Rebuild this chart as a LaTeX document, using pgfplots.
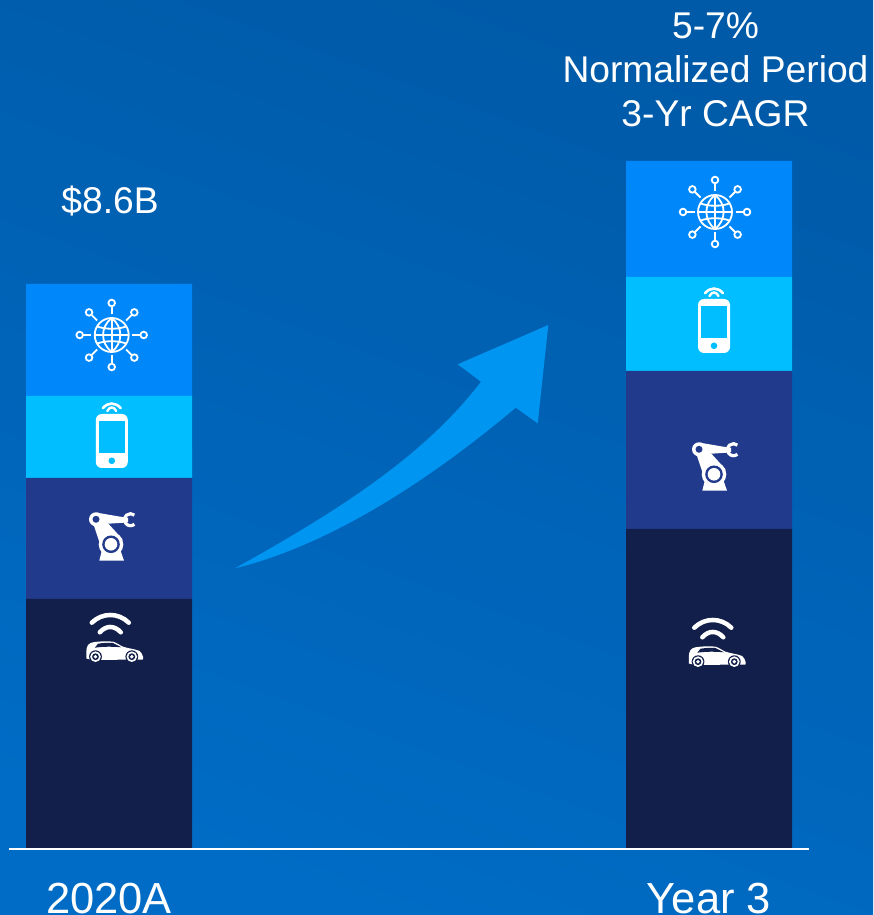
\documentclass[border=0pt]{standalone}
\usepackage{fontspec}
\setmainfont{Liberation Sans}
\usepackage{pgfplots}
\pgfplotsset{compat=1.18}
\definecolor{bgtop}{HTML}{005AA8}
\definecolor{bgmid}{HTML}{0065B9}
\definecolor{bgbot}{HTML}{006CC5}
\definecolor{navy}{HTML}{121F4A}
\definecolor{royal}{HTML}{223A8C}
\definecolor{cyanbar}{HTML}{00BEFF}
\definecolor{bluebar}{HTML}{0088FA}
\definecolor{arrowblue}{HTML}{0095F0}

% icons, drawn in reference pixels round their centre
\newcommand{\globeicon}[2]{%
\begin{scope}[shift={(#1,#2)},white,line width=1.8pt]
  \draw (0,0) circle (17);
  \draw (-17,0) -- (17,0) (0,-17) -- (0,17);
  \draw (0,-17) .. controls (-11.5,-8) and (-11.5,8) .. (0,17);
  \draw (0,-17) .. controls (11.5,-8) and (11.5,8) .. (0,17);
  \draw (-14.5,-8.5) .. controls (-6,-5.5) and (6,-5.5) .. (14.5,-8.5);
  \draw (-14.5,8.5) .. controls (-6,5.5) and (6,5.5) .. (14.5,8.5);
  \foreach \a in {0,45,...,315} {
    \draw[rotate=\a] (20.5,0) -- (28.3,0);
    \draw[rotate=\a] (32,0) circle (3.3);
  }
\end{scope}}
\newcommand{\phoneicon}[3]{%
\begin{scope}[shift={(#1,#2)}]
  \fill[white,rounded corners=6pt] (-16,-27) rectangle (16,27);
  \fill[#3] (-13.3,-20.3) rectangle (13.3,12.3);
  \fill[#3] (0,19.8) circle (3.3);
  \draw[white,line width=2.6pt,line cap=round] (-9,-32.7) .. controls (-4,-39) and (4,-39) .. (9,-32.7);
  \draw[white,line width=2.4pt,line cap=round] (-4.5,-30) .. controls (-2,-34.7) and (2,-34.7) .. (4.5,-30);
\end{scope}}
\newcommand{\roboticon}[3]{%
\begin{scope}[shift={(#1,#2)}]
  \fill[white] (-9,5.7) -- (-11.7,16.4) -- (13,16.4) -- (9.3,5.7) -- cycle;
  \fill[white] (-17.3,-19.3) -- (-11.5,-2) -- (11.5,-5) -- (-3,-21) -- cycle;
  \fill[white] (-14,-31.6) -- (12.7,-27) -- (17,-26.5) -- (17,-22.5) -- (12.7,-21.6) -- (-7.3,-20.3) -- (-15,-19) -- cycle;
  \fill[white] (-15,-25) circle (7);
  \fill[#3] (-15,-25) circle (3.5);
  \fill[white] (0,0) circle (12.3);
  \fill[#3] (0,0) circle (8.8);
  \fill[white] (0,0) circle (6.3);
  \draw[white,line width=3.2pt] (23.4,-20) arc[start angle=50,end angle=310,radius=6];
\end{scope}}
\newcommand{\caricon}[3]{%
\begin{scope}[shift={(#1,#2)}]
  \draw[white,line width=4.5pt,line cap=round] (-22.5,-29.3) .. controls (-12,-39.6) and (4,-39.6) .. (14.5,-29.3);
  \draw[white,line width=4.5pt,line cap=round] (-14.5,-19.7) .. controls (-8,-26.8) and (0,-26.8) .. (6.5,-19.7);
  \fill[white] (-28,4.7) -- (-28,-0.3) .. controls (-27.8,-3) and (-27.5,-5.5) .. (-26.3,-7)
    .. controls (-25,-8.5) and (-23,-9.5) .. (-21.3,-9.7)
    .. controls (-15,-10.8) and (-6,-11) .. (-1.3,-10.3)
    .. controls (2,-9.5) and (5,-7) .. (8.7,-5.3)
    .. controls (14,-3.5) and (21,-3) .. (25.3,-1)
    .. controls (27,0.5) and (28.5,3) .. (28.7,4.7) -- (28.7,7.5)
    -- (-22,8) -- (-28,6.5) -- cycle;
  \fill[#3] (-19.5,-4.3) -- (-16.3,-8.3) .. controls (-10,-9.3) and (-5,-9.3) .. (-1.3,-9) -- (7,-4.7) .. controls (-3,-5.6) and (-12,-5.4) .. (-19.5,-4.3) -- cycle;
  \foreach \c in {-18.8,17.5} {
    \fill[#3] (\c,4.7) circle (6.4);
    \fill[white] (\c,4.7) circle (5.3);
    \fill[#3] (\c,4.7) circle (3.4);
    \fill[white] (\c,4.7) circle (1.9);
  }
\end{scope}}

\begin{document}
\begin{tikzpicture}
% pixel frame of the reference: (9,848) is the axis origin
\begin{scope}[shift={(-9pt,848pt)},x=1pt,y=-1pt]
  \shade[top color=bgtop,middle color=bgmid,bottom color=bgbot,shading angle=-20] (0,0) rectangle (873,915);
\end{scope}
\useasboundingbox (-9pt,-67pt) rectangle (864pt,848pt);

\begin{axis}[
  at={(0,0)},anchor=origin,
  width=800pt,height=848pt,
  scale only axis,
  xmin=9,xmax=809,
  ymin=0,ymax=848,
  ybar stacked,
  bar width=166pt,
  axis x line=bottom,
  axis y line=none,
  x axis line style={white,line width=2pt,-,yshift=-1pt},
  axis on top,
  xtick={109,709},
  xticklabels={2020A,Year 3},
  major tick length=0pt,
  xticklabel style={font=\fontsize{43.5}{46}\selectfont,white,anchor=base,inner sep=0pt,yshift=-65pt},
  clip=false,
]
% bar heights in reference pixels
\addplot[fill=navy,draw=none] coordinates {(109,249) (709,319)};
\addplot[fill=royal,draw=none] coordinates {(109,121) (709,158)};
\addplot[fill=cyanbar,draw=none] coordinates {(109,82) (709,94)};
\addplot[fill=bluebar,draw=none] coordinates {(109,112) (709,116)};
\node[white,font=\fontsize{37.2}{44}\selectfont] at (axis cs:110,647) {\$8.6B};
\node[white,font=\fontsize{37.2}{44}\selectfont,align=center] at (axis cs:715.5,778) {5-7\%\\Normalized Period\\3-Yr CAGR};
\end{axis}

\begin{scope}[shift={(-9pt,848pt)},x=1pt,y=-1pt]
  \fill[arrowblue] (235,568.3) .. controls (340,510) and (425,455) .. (481,381.7)
    -- (457.7,364.3) -- (548.3,325) -- (537.7,423.3) -- (515.7,407.7)
    .. controls (430,480) and (330,545) .. (235,568.3) -- cycle;
  \globeicon{111.7}{335}
  \phoneicon{111.8}{441}{cyanbar}
  \roboticon{111}{544.3}{royal}
  \caricon{114.3}{652}{navy}
  \globeicon{715}{212}
  \phoneicon{714}{326}{cyanbar}
  \roboticon{714}{474.3}{royal}
  \caricon{716.8}{657}{navy}
\end{scope}
\end{tikzpicture}
\end{document}
